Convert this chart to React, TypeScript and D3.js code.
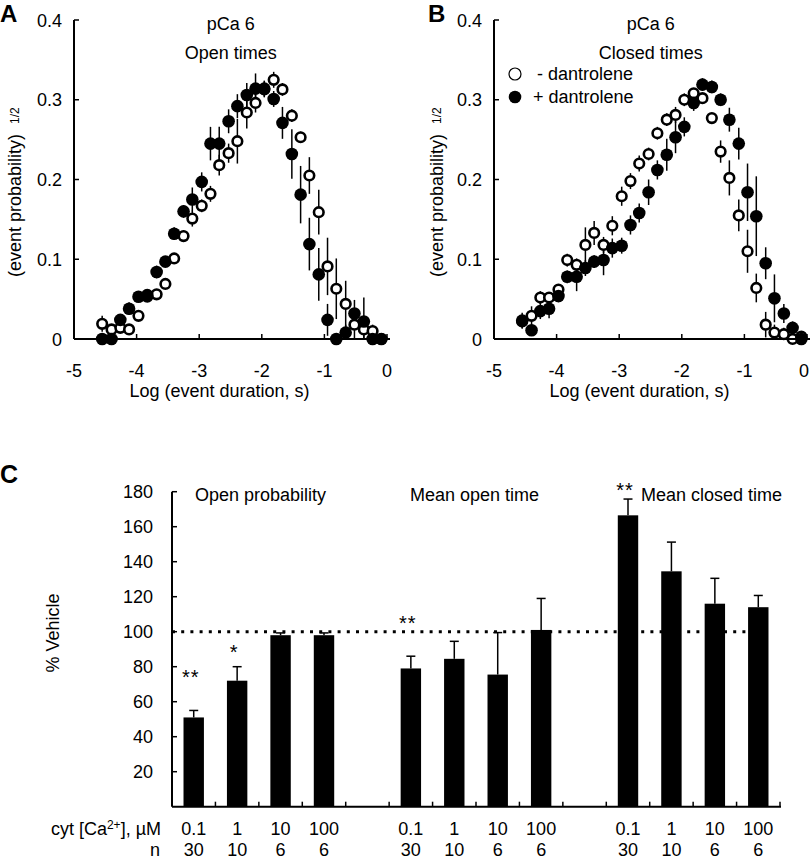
import * as d3 from "d3";

const W = 810;
const H = 860;
const FONT = "'Liberation Sans', Arial, Helvetica, sans-serif";

// log10 of event duration (s), bin centres shared by panels A and B
const LOG_DURATION = [
  -4.55, -4.4, -4.26, -4.12, -3.97, -3.83, -3.68, -3.54, -3.4, -3.25, -3.11,
  -2.96, -2.82, -2.68, -2.53, -2.39, -2.24, -2.1, -1.96, -1.81, -1.67, -1.52,
  -1.38, -1.24, -1.09, -0.95, -0.81, -0.66, -0.52, -0.37, -0.23, -0.09,
];

// panel A: open times, (event probability)^1/2
const OPEN_CTRL = [
  0.019, 0.012, 0.014, 0.012, 0.029, 0.053, 0.056, 0.069, 0.101, 0.129, 0.151,
  0.167, 0.182, 0.218, 0.233, 0.248, 0.284, 0.296, 0.313, 0.325, 0.313, 0.28,
  0.253, 0.205, 0.159, 0.091, 0.063, 0.044, 0.018, 0.012, 0.01, 0,
];
const OPEN_CTRL_ERR = [
  0.01, 0.005, 0.005, 0.005, 0.006, 0.005, 0.005, 0.006, 0.006, 0.007, 0.01,
  0.008, 0.01, 0.013, 0.012, 0.028, 0.02, 0.012, 0.01, 0.01, 0.008, 0.008,
  0.007, 0.023, 0.028, 0.036, 0.038, 0.029, 0.02, 0.015, 0.008, 0.005,
];
const OPEN_DANT = [
  0, 0, 0.024, 0.038, 0.053, 0.055, 0.084, 0.097, 0.132, 0.16, 0.175, 0.197,
  0.245, 0.245, 0.273, 0.292, 0.306, 0.314, 0.314, 0.301, 0.271, 0.232, 0.181,
  0.119, 0.081, 0.024, 0, 0.008, 0.032, 0.022, 0, 0,
];
const OPEN_DANT_ERR = [
  0.005, 0.005, 0.006, 0.008, 0.006, 0.005, 0.008, 0.006, 0.008, 0.008, 0.015,
  0.012, 0.021, 0.021, 0.015, 0.015, 0.015, 0.019, 0.01, 0.01, 0.02, 0.031,
  0.036, 0.033, 0.033, 0.02, 0.005, 0.01, 0.017, 0.03, 0.005, 0.005,
];

// panel B: closed times
const CLOSED_CTRL = [
  0.022, 0.029, 0.052, 0.052, 0.062, 0.099, 0.093, 0.118, 0.133, 0.118, 0.142,
  0.179, 0.198, 0.22, 0.232, 0.258, 0.275, 0.281, 0.3, 0.308, 0.302, 0.277,
  0.235, 0.202, 0.155, 0.11, 0.064, 0.018, 0.008, 0.006, 0, 0.003,
];
const CLOSED_CTRL_ERR = [
  0.008, 0.012, 0.008, 0.006, 0.006, 0.008, 0.008, 0.022, 0.015, 0.01, 0.012,
  0.012, 0.01, 0.01, 0.008, 0.008, 0.008, 0.01, 0.008, 0.006, 0.006, 0.006,
  0.014, 0.022, 0.02, 0.027, 0.018, 0.016, 0.01, 0.008, 0.005, 0.005,
];
const CLOSED_DANT = [
  0.023, 0.011, 0.035, 0.038, 0.054, 0.078, 0.078, 0.089, 0.097, 0.099, 0.114,
  0.117, 0.143, 0.158, 0.184, 0.212, 0.231, 0.253, 0.266, 0.296, 0.319, 0.316,
  0.3, 0.275, 0.245, 0.184, 0.154, 0.095, 0.051, 0.032, 0.014, 0,
];
const CLOSED_DANT_ERR = [
  0.01, 0.006, 0.01, 0.012, 0.008, 0.008, 0.018, 0.01, 0.008, 0.019, 0.012,
  0.01, 0.012, 0.012, 0.016, 0.012, 0.02, 0.02, 0.012, 0.01, 0.008, 0.008,
  0.008, 0.015, 0.02, 0.036, 0.05, 0.02, 0.03, 0.012, 0.008, 0.005,
];

const X_TICKS = [-5, -4, -3, -2, -1, 0];
const Y_TICKS = [0, 0.1, 0.2, 0.3, 0.4];

// panel C: % vehicle
const GROUPS = ["Open probability", "Mean open time", "Mean closed time"];
const CA_LABELS = ["0.1", "1", "10", "100"];
const N_LABELS = ["30", "10", "6", "6"];
const OPEN_PROB = [51, 72, 98, 98];
const OPEN_PROB_ERR = [4, 8, 1.3, 1.3];
const MEAN_OPEN = [79, 84.5, 75.5, 101];
const MEAN_OPEN_ERR = [7, 10, 24, 18];
const MEAN_CLOSED = [166.5, 134.5, 116, 114];
const MEAN_CLOSED_ERR = [9.3, 16.7, 14.5, 6.7];
const SIGNIF = [
  ["**", "*", "", ""],
  ["**", "", "", ""],
  ["**", "", "", ""],
];
const C_TICKS = [20, 40, 60, 80, 100, 120, 140, 160, 180];

const yDist = d3.scaleLinear().domain([0, 0.4]).range([339, 20]);

function DistPanel({ left, letter, title, ctrl, ctrlErr, dant, dantErr, legend }) {
  const x = d3.scaleLinear().domain([-5, 0]).range([left, left + 313]);
  const x0 = left;
  const ctrlPts = LOG_DURATION.map((d, i) => ({ x: d, y: ctrl[i], e: ctrlErr[i] }));
  const dantPts = LOG_DURATION.map((d, i) => ({ x: d, y: dant[i], e: dantErr[i] }));
  const errLines = [...ctrlPts, ...dantPts];
  return (
    <g fontFamily={FONT}>
      <text x={left - 74 + (letter === "B" ? 8 : 0)} y={22} fontSize={24} fontWeight="bold">
        {letter}
      </text>
      {errLines.map((p, i) => (
        <line
          key={"e" + i}
          x1={x(p.x)}
          x2={x(p.x)}
          y1={yDist(Math.max(0, p.y - p.e))}
          y2={yDist(p.y + p.e)}
          stroke="#000"
          strokeWidth={1.5}
        />
      ))}
      {ctrlPts.map((p, i) => (
        <circle key={"o" + i} cx={x(p.x)} cy={yDist(p.y)} r={4.8} fill="#fff" stroke="#000" strokeWidth={2.6} />
      ))}
      {dantPts.map((p, i) => (
        <circle key={"f" + i} cx={x(p.x)} cy={yDist(p.y)} r={6.3} fill="#000" />
      ))}
      {/* axes */}
      <line x1={x0} x2={x0} y1={yDist(0)} y2={yDist(0.4)} stroke="#000" strokeWidth={2} />
      <line x1={x0} x2={Math.min(x(0) + 3, W)} y1={yDist(0)} y2={yDist(0)} stroke="#000" strokeWidth={2} />
      {Y_TICKS.map((t) => (
        <g key={"yt" + t}>
          <line x1={x0} x2={x0 + 5} y1={yDist(t)} y2={yDist(t)} stroke="#000" strokeWidth={1.5} />
          <text x={x0 - 12} y={yDist(t) + 6.5} textAnchor="end" fontSize={18}>
            {t === 0 ? "0" : t.toFixed(1)}
          </text>
        </g>
      ))}
      {X_TICKS.map((t) => (
        <g key={"xt" + t}>
          <line x1={x(t)} x2={x(t)} y1={yDist(0)} y2={yDist(0) - 5} stroke="#000" strokeWidth={1.5} />
          <text x={Math.min(x(t), W - 6)} y={377} textAnchor="middle" fontSize={18}>
            {t}
          </text>
        </g>
      ))}
      <text x={x(-2.5) - 11} y={397} textAnchor="middle" fontSize={18}>
        Log (event duration, s)
      </text>
      <text
        transform={`translate(${left - 53 + (letter === "B" ? 2 : 0)},277) rotate(-90)`}
        fontSize={18}
      >
        (event probability)
        <tspan dx={10} dy={-2} fontSize={12}>
          1/2
        </tspan>
      </text>
      <text x={x(-2) - 31} y={30} textAnchor="middle" fontSize={18}>
        pCa 6
      </text>
      <text x={x(-2) - 31} y={59} textAnchor="middle" fontSize={18}>
        {title}
      </text>
      {legend && (
        <g>
          <circle cx={left + 21} cy={74} r={6} fill="#fff" stroke="#000" strokeWidth={1.2} />
          <text x={left + 43} y={80} fontSize={18}>
            - dantrolene
          </text>
          <circle cx={left + 21} cy={97} r={6.3} fill="#000" />
          <text x={left + 39} y={103} fontSize={18}>
            + dantrolene
          </text>
        </g>
      )}
    </g>
  );
}

function BarPanel() {
  const slots: string[] = [];
  GROUPS.forEach((g, gi) => {
    CA_LABELS.forEach((c) => slots.push(`${g}|${c}`));
    if (gi < GROUPS.length - 1) slots.push(`gap${gi}`);
  });
  const x = d3.scaleBand().domain(slots).range([172, 780]).paddingInner(0.53).paddingOuter(0.265);
  const y = d3.scaleLinear().domain([0, 180]).range([806.7, 491.7]);
  const step = x.step();
  const values = [OPEN_PROB, MEAN_OPEN, MEAN_CLOSED];
  const errs = [OPEN_PROB_ERR, MEAN_OPEN_ERR, MEAN_CLOSED_ERR];
  const bars = GROUPS.flatMap((g, gi) =>
    CA_LABELS.map((c, ci) => ({
      key: `${g}|${c}`,
      ca: c,
      n: N_LABELS[ci],
      v: values[gi][ci],
      e: errs[gi][ci],
      sig: SIGNIF[gi][ci],
    })),
  );
  const bw = x.bandwidth();
  const cx = (k: string) => (x(k) as number) + bw / 2;
  // vertical centre of the significance stars, kept under the top of the plot
  const sigY = (b) => Math.max(y(b.v + b.e) - (b.sig.length > 1 ? 38 : 20), y(184));
  return (
    <g fontFamily={FONT}>
      <text x={0} y={483} fontSize={25} fontWeight="bold">
        C
      </text>
      <line
        x1={172}
        x2={760}
        y1={y(100)}
        y2={y(100)}
        stroke="#000"
        strokeWidth={3}
        strokeDasharray="3 6.2"
      />
      {bars.map((b) => (
        <g key={b.key}>
          <line x1={cx(b.key)} x2={cx(b.key)} y1={y(b.v)} y2={y(b.v + b.e)} stroke="#000" strokeWidth={1.5} />
          <line x1={cx(b.key) - 4.5} x2={cx(b.key) + 4.5} y1={y(b.v + b.e)} y2={y(b.v + b.e)} stroke="#000" strokeWidth={1.5} />
          <rect x={x(b.key)} y={y(b.v)} width={bw} height={y(0) - y(b.v)} fill="#000" />
          {b.sig && (
            <text x={cx(b.key) - 3} y={sigY(b) + 12} textAnchor="middle" fontSize={20} letterSpacing={1}>
              {b.sig}
            </text>
          )}
          <text x={cx(b.key)} y={835} textAnchor="middle" fontSize={18}>
            {b.ca}
          </text>
          <text x={cx(b.key)} y={856} textAnchor="middle" fontSize={18}>
            {b.n}
          </text>
        </g>
      ))}
      {/* axes */}
      <line x1={172} x2={172} y1={y(0)} y2={y(180)} stroke="#000" strokeWidth={2} />
      <line x1={172} x2={781} y1={y(0)} y2={y(0)} stroke="#000" strokeWidth={2} />
      {C_TICKS.map((t) => (
        <g key={"ct" + t}>
          <line x1={172} x2={177} y1={y(t)} y2={y(t)} stroke="#000" strokeWidth={1.5} />
          <text x={153} y={y(t) + 6.5} textAnchor="end" fontSize={18}>
            {t}
          </text>
        </g>
      ))}
      {slots.map((s) => (
        <line
          key={"st" + s}
          x1={(x(s) as number) - (step - bw) / 2 + step}
          x2={(x(s) as number) - (step - bw) / 2 + step}
          y1={y(0)}
          y2={y(0) - 5}
          stroke="#000"
          strokeWidth={1.5}
        />
      ))}
      <text transform={`translate(59,633) rotate(-90)`} textAnchor="middle" fontSize={18}>
        % Vehicle
      </text>
      {GROUPS.map((g, gi) => (
        <text key={g} x={[195, 410, 641][gi]} y={501} fontSize={18}>
          {g}
        </text>
      ))}
      <text x={161} y={835} textAnchor="end" fontSize={18}>
        cyt [Ca
        <tspan dy={-6} fontSize={12}>
          2+
        </tspan>
        <tspan dy={6}>], µM</tspan>
      </text>
      <text x={160} y={856} textAnchor="end" fontSize={18}>
        n
      </text>
    </g>
  );
}

export default function App() {
  return (
    <svg
      width={W}
      height={H}
      viewBox={`0 0 ${W} ${H}`}
      style={{ position: "absolute", left: 0, top: 0, background: "#fff" }}
    >
      <rect width={W} height={H} fill="#fff" />
      <DistPanel
        left={74}
        letter="A"
        title="Open times"
        ctrl={OPEN_CTRL}
        ctrlErr={OPEN_CTRL_ERR}
        dant={OPEN_DANT}
        dantErr={OPEN_DANT_ERR}
        legend={false}
      />
      <DistPanel
        left={494}
        letter="B"
        title="Closed times"
        ctrl={CLOSED_CTRL}
        ctrlErr={CLOSED_CTRL_ERR}
        dant={CLOSED_DANT}
        dantErr={CLOSED_DANT_ERR}
        legend={true}
      />
      <BarPanel />
    </svg>
  );
}
